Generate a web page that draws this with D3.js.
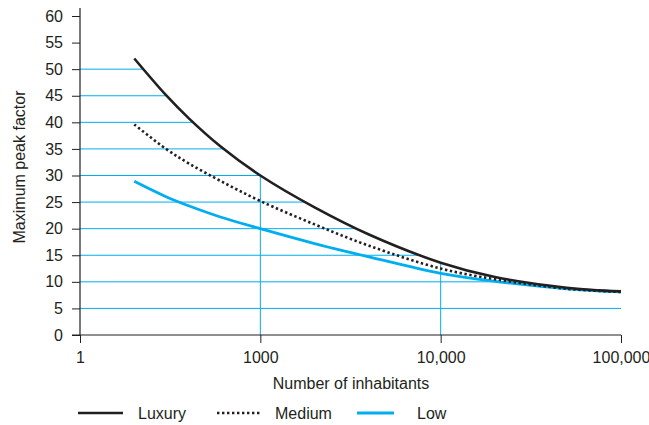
<!DOCTYPE html>
<html>
<head>
<meta charset="utf-8">
<script src="https://cdnjs.cloudflare.com/ajax/libs/d3/7.8.5/d3.min.js"></script>
<style>
  html, body { margin: 0; padding: 0; background: #fff; }
  svg { display: block; }
  text { font-family: "Liberation Sans", Arial, Helvetica, sans-serif; fill: #231f20; }
</style>
</head>
<body>
<svg id="chart" width="649" height="425"></svg>
<script>
// Number of inhabitants at which the curves are sampled
const inhabitants = [200, 300, 400, 600, 1000, 2000, 4000, 10000, 20000, 50000, 100000];
// Maximum peak factor per consumption class
const luxury = [52, 45.1, 40.8, 35.5, 30.0, 24.0, 18.9, 13.6, 10.9, 8.9, 8.2];
const medium = [39.6, 35, 32.3, 29, 25.2, 20.8, 16.8, 12.5, 10.5, 8.7, 8.1];
const low    = [28.9, 26.0, 24.3, 22.2, 20.0, 17.2, 14.7, 11.6, 10.1, 8.7, 8.1];

// Axis ticks
const xTickValues = [100, 1000, 10000, 100000];
const xTickLabels = ["1", "1000", "10,000", "100,000"];
const yTickValues = [0, 5, 10, 15, 20, 25, 30, 35, 40, 45, 50, 55, 60];
const gridValues = [5, 10, 15, 20, 25, 30, 35, 40, 45, 50];
const verticalGuides = [1000, 10000];

const seriesNames = ["Luxury", "Medium", "Low"];

const BLUE = "#00aeef";
const DARK = "#231f20";

const svg = d3.select("#chart");

const x = d3.scaleLog().domain([100, 100000]).range([80, 621]);
const y = d3.scaleLinear().domain([0, 60]).range([335, 16]);

const line = d3.line()
  .x(d => x(d[0]))
  .y(d => y(d[1]))
  .curve(d3.curveCatmullRom.alpha(0.5));

const zip = vals => inhabitants.map((n, i) => [n, vals[i]]);

const styles = {
  Luxury: { stroke: DARK, width: 2.6, dash: null },
  Medium: { stroke: DARK, width: 2.6, dash: "2.4,2.6" },
  Low:    { stroke: BLUE, width: 2.8, dash: null }
};
const seriesData = { Luxury: luxury, Medium: medium, Low: low };

// Luxury path drawn off-screen first, used to find where guide lines stop
const gridLayer = svg.append("g");
const probe = svg.append("path").attr("d", line(zip(luxury))).attr("fill", "none").attr("stroke", "none");
const probeNode = probe.node();
const probeLen = probeNode.getTotalLength();
const samples = d3.range(0, probeLen + 0.5, 0.5).map(l => probeNode.getPointAtLength(Math.min(l, probeLen)));

function xWhereLuxuryAt(py) {
  for (let i = 1; i < samples.length; i++) {
    const a = samples[i - 1], b = samples[i];
    if ((a.y - py) * (b.y - py) <= 0 && a.y !== b.y) {
      return a.x + (py - a.y) / (b.y - a.y) * (b.x - a.x);
    }
  }
  return null;
}
function yOfLuxuryAtX(px) {
  for (let i = 1; i < samples.length; i++) {
    const a = samples[i - 1], b = samples[i];
    if ((a.x - px) * (b.x - px) <= 0 && a.x !== b.x) {
      return a.y + (px - a.x) / (b.x - a.x) * (b.y - a.y);
    }
  }
  return y(0);
}
probe.remove();

// Horizontal guide lines reach from the axis to the luxury curve
gridValues.forEach(v => {
  const py = y(v);
  const xe = xWhereLuxuryAt(py);
  gridLayer.append("line")
    .attr("x1", x(100)).attr("x2", xe === null ? x(100000) : xe)
    .attr("y1", py).attr("y2", py)
    .attr("stroke", BLUE).attr("stroke-width", 1);
});

// Vertical guide lines up to the luxury curve
verticalGuides.forEach(n => {
  const px = x(n);
  gridLayer.append("line")
    .attr("x1", px).attr("x2", px)
    .attr("y1", y(0)).attr("y2", yOfLuxuryAtX(px))
    .attr("stroke", BLUE).attr("stroke-width", 1);
});

// Curves
const curveLayer = svg.append("g");
["Low", "Medium", "Luxury"].forEach(name => {
  const s = styles[name];
  curveLayer.append("path")
    .attr("d", line(zip(seriesData[name])))
    .attr("fill", "none")
    .attr("stroke", s.stroke)
    .attr("stroke-width", s.width)
    .attr("stroke-dasharray", s.dash);
});

// Y axis
const yAxis = d3.axisLeft(y).tickValues(yTickValues).tickSize(8).tickPadding(9);
const yg = svg.append("g").attr("transform", `translate(${x(100)},0)`).call(yAxis);
yg.select(".domain").attr("d", `M0,8V${y(0)}`).attr("stroke", DARK).attr("stroke-width", 1.2);
yg.selectAll(".tick line").attr("stroke", DARK).attr("stroke-width", 1);
yg.selectAll(".tick text").attr("font-size", 16).attr("fill", DARK)
  .attr("font-family", "Liberation Sans, Arial, sans-serif");

// X axis
const xAxis = d3.axisBottom(x).tickValues(xTickValues)
  .tickFormat((d, i) => xTickLabels[i]).tickSize(8).tickPadding(9);
const xg = svg.append("g").attr("transform", `translate(0,${y(0)})`).call(xAxis);
xg.select(".domain").attr("d", `M${x(100) - 8},0H${x(100000)}`).attr("stroke", DARK).attr("stroke-width", 1.2);
xg.selectAll(".tick line").attr("stroke", DARK).attr("stroke-width", 1);
xg.selectAll(".tick text").attr("font-size", 16).attr("fill", DARK)
  .attr("font-family", "Liberation Sans, Arial, sans-serif");

// Axis titles
svg.append("text")
  .attr("x", 351).attr("y", 389)
  .attr("text-anchor", "middle").attr("font-size", 16)
  .text("Number of inhabitants");

svg.append("text")
  .attr("transform", "translate(24.5,167) rotate(-90)")
  .attr("text-anchor", "middle").attr("font-size", 16)
  .text("Maximum peak factor");

// Legend
const legendX = [78, 217, 357];
const legendLen = [45, 43, 37];
const legendTextGap = [15, 15, 23];
const legend = svg.append("g");
seriesNames.forEach((name, i) => {
  const s = styles[name];
  legend.append("line")
    .attr("x1", legendX[i]).attr("x2", legendX[i] + legendLen[i])
    .attr("y1", 413).attr("y2", 413)
    .attr("stroke", s.stroke).attr("stroke-width", s.width)
    .attr("stroke-dasharray", s.dash);
  legend.append("text")
    .attr("x", legendX[i] + legendLen[i] + legendTextGap[i]).attr("y", 418.5)
    .attr("font-size", 16)
    .text(name);
});
</script>
</body>
</html>
